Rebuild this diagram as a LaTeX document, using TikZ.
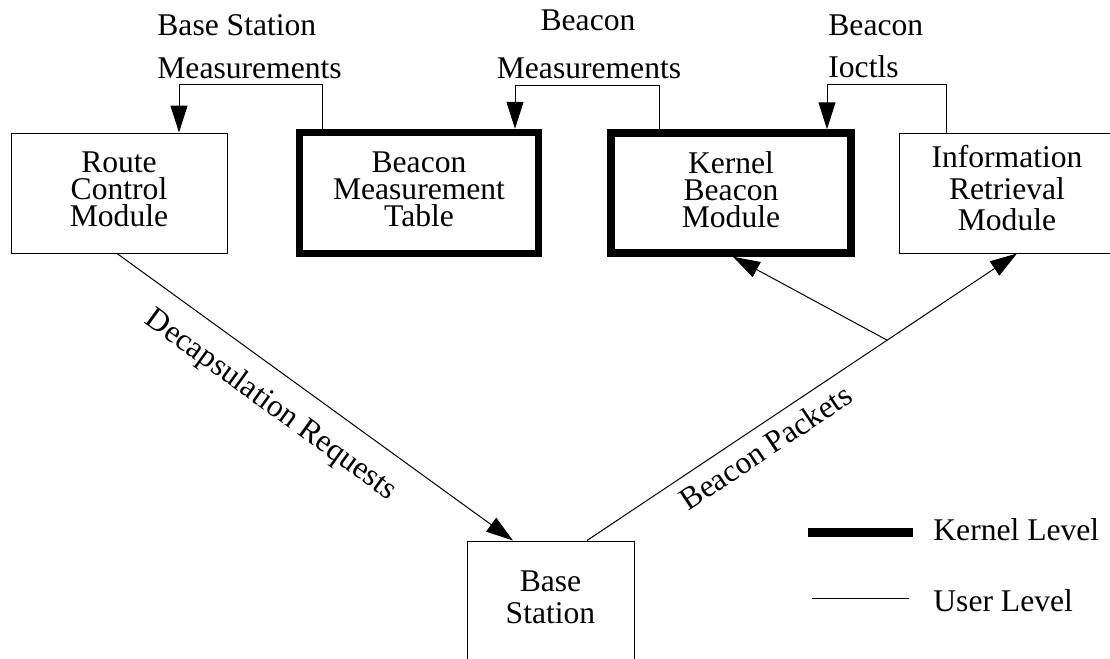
\documentclass[tikz,border=0pt]{standalone}
\usepackage{fontspec}
\setmainfont{Liberation Serif}
\usetikzlibrary{arrows.meta}

\begin{document}
\begin{tikzpicture}[
 x=0.5pt,y=-0.5pt,
 box/.style={draw,line width=0.5pt,inner sep=0pt,align=center,minimum width=108pt,minimum height=60pt,text depth=3.5pt,font=\fontsize{15.8pt}{13.5pt}\selectfont},
 loose/.style={font=\fontsize{15.8pt}{15.75pt}\selectfont,text depth=5pt},
 kbox/.style={box,line width=3.75pt,minimum width=120pt},
 arr/.style={-{Triangle[length=13.5pt,width=8.5pt]},line width=0.5pt},
 lbl/.style={inner sep=0pt,font=\fontsize{15.8pt}{19pt}\selectfont},
 kline/.style={line width=4.5pt},
 uline/.style={line width=0.5pt}
]
\useasboundingbox (0,0) rectangle (1110,659);
\node[box] (route) at (119,193) {Route\\Control\\Module};
\node[kbox,minimum width=119.5pt,minimum height=60.5pt] (table) at (419,193) {Beacon\\Measurement\\Table};
\node[kbox] (kernel) at (731,193) {Kernel\\Beacon\\Module};
\node[box,loose] (info) at (1007,193) {Information\\Retrieval\\Module};
\node[box,loose,minimum width=83.5pt,text depth=4pt] (station) at (550.5,601) {Base\\Station};

\node[lbl,anchor=base west] (bsm1) at (157,35) {Base Station};
\node[lbl,anchor=base west] (bsm2) at (157,78) {Measurements};
\node[lbl,anchor=base] (bm1) at (588,30) {Beacon};
\node[lbl,anchor=base] (bm2) at (589,78) {Measurements};
\node[lbl,anchor=base west] (bi1) at (828,35) {Beacon};
\node[lbl,anchor=base west] (bi2) at (828,77) {Ioctls};

\draw[arr] ([xshift=13.5pt]table.north west) -- ++(0,-44) -| ([xshift=30pt]route.north);
\draw[arr] ([xshift=26pt]kernel.north west) -- ++(0,-44) -| ([xshift=48pt]table.north);
\draw[arr] ([xshift=24pt]info.north west) -- ++(0,-48) -| ([xshift=48pt]kernel.north);

\draw[arr] ([xshift=-1pt]route.south) -- node[lbl,pos=0.437,sloped,below=9pt] (decap) {Decapsulation Requests} ([xshift=-18.75pt]station.north);
\draw[arr] ([xshift=18.25pt]station.north) -- coordinate[pos=0.698] (split) node[lbl,pos=0.387,sloped,below=5pt] (packets) {Beacon Packets} ([xshift=5pt]info.south);
\draw[arr] (split) -- ([xshift=1pt]kernel.south);

\node[lbl,anchor=base west] (klev) at (933,540) {Kernel Level};
\node[lbl,anchor=base west] (ulev) at (933,611) {User Level};
\draw[kline] ([xshift=-10pt,yshift=4pt]klev.base west) -- ++(-105,0);
\draw[uline] ([xshift=-12pt,yshift=6.5pt]ulev.base west) -- ++(-97,0);
\end{tikzpicture}
\end{document}
